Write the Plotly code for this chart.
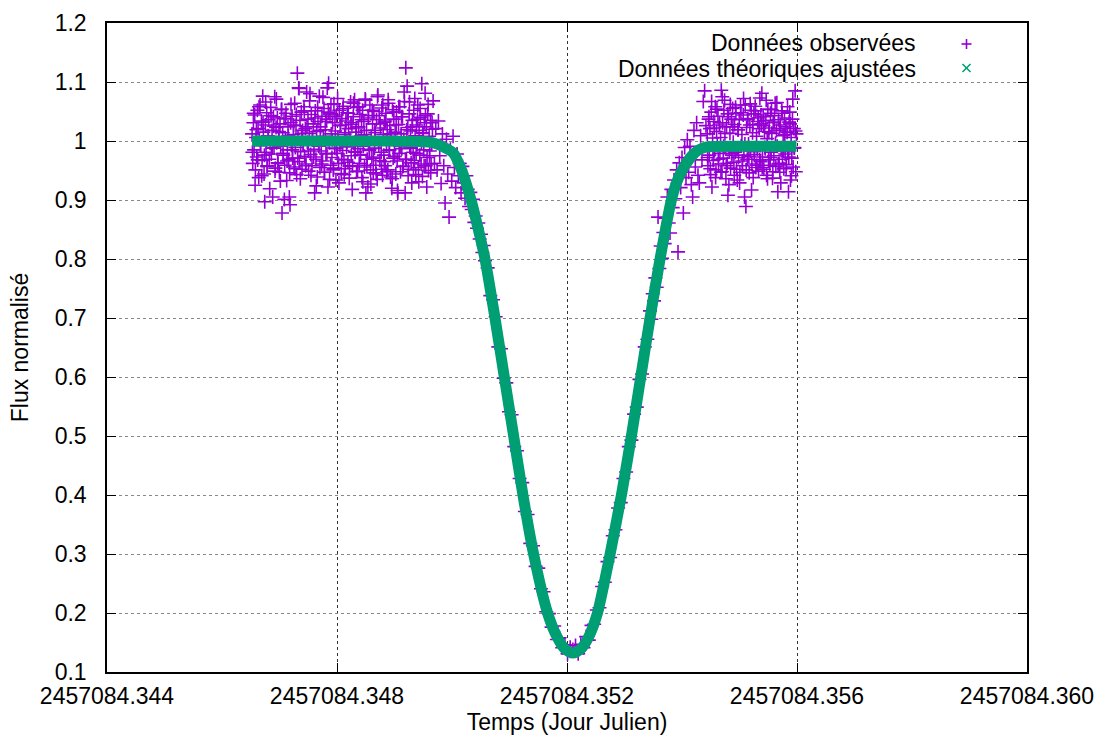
import plotly.graph_objects as go

# time stamps are seconds after this epoch (Julian Day)
T0_JD = 2457084.3465
SEC_PER_DAY = 86400.0

# --- observed flux: before ingress ---
obs_pre_s = [
    2, 3, 4, 5, 6, 7, 8, 9, 10, 11, 12, 13, 14, 15, 16, 17, 18, 19, 20, 21,
    22, 23, 24, 25, 26, 27, 28, 29, 30, 31, 32, 33, 34, 35, 36, 37, 38, 39, 40, 41,
    42, 43, 44, 45, 46, 47, 48, 49, 50, 51, 52, 53, 54, 55, 56, 57, 58, 59, 60, 61,
    62, 63, 64, 65, 66, 67, 68, 69, 70, 71, 72, 73, 74, 75, 76, 77, 78, 79, 80, 81,
    82, 83, 84, 85, 86, 87, 88, 89, 90, 91, 92, 93, 94, 95, 96, 97, 98, 99, 100, 101,
    102, 103, 104, 105, 106, 107, 108, 109, 110, 111, 112, 113, 114, 115, 116, 117, 118, 119, 120, 121,
    122, 123, 124, 125, 126, 127, 128, 129, 130, 131, 132, 133, 134, 135, 136, 137, 138, 139, 140, 141,
    142, 143, 144, 145, 146, 147, 148, 149, 150, 151, 152, 153, 154, 155, 156, 157, 158, 159, 160, 161,
    162, 163, 164, 165, 166, 167, 168, 169, 170, 171, 172, 173, 174, 175, 176, 177, 178, 179, 180, 181,
    182, 183, 184, 185, 186, 187, 188, 189, 190, 191, 192, 193, 194, 195, 196, 197, 198, 199, 200, 201,
    202, 203, 204, 205, 206, 207, 208, 209, 210, 211, 212, 213, 214, 215, 216, 217, 218, 219, 220, 221,
    222, 223, 224, 225, 226, 227, 228, 229, 230, 231, 232, 233, 234, 235, 236, 237, 238, 239, 240, 241,
    242, 243, 244, 245, 246, 247, 248, 249, 250, 251, 252, 253, 254, 255, 256, 257, 258, 259, 260, 261,
    262, 263, 264, 265, 266, 267, 268, 269, 270, 271, 272, 273,
]
obs_pre_flux = [
    1.012, 0.962, 1.031, 0.985, 1.044, 0.951, 1.006, 0.973, 1.052, 1.021, 0.938, 1.003, 1.061, 0.992, 1.034, 0.967, 1.076, 1.015, 0.944, 0.897,
    1.027, 0.981, 1.048, 0.958, 1.009, 1.036, 0.969, 0.996, 1.057, 0.978, 1.018, 0.905, 1.041, 0.988, 1.075, 0.954, 1.023, 0.997, 1.039, 0.962,
    1.005, 0.947, 1.029, 0.991, 1.053, 0.878, 1.014, 0.976, 1.038, 0.959, 1.002, 1.047, 0.933, 0.985, 1.024, 0.968, 0.905, 0.892, 1.031, 0.993,
    1.042, 0.971, 1.011, 0.956, 1.064, 0.989, 1.026, 0.943, 1.115, 1.007, 1.090, 0.965, 1.035, 0.982, 1.049, 0.952, 1.018, 0.994, 1.058, 0.974,
    1.021, 0.961, 1.083, 0.998, 1.037, 0.949, 1.013, 1.080, 0.977, 1.045, 0.958, 1.004, 1.029, 0.986, 0.912, 1.051, 0.969, 1.016, 0.939, 1.033,
    0.991, 1.076, 0.955, 1.024, 0.983, 1.042, 0.966, 1.008, 1.055, 0.947, 1.019, 0.978, 1.037, 1.090, 0.922, 1.098, 0.997, 1.046, 0.959, 1.012,
    0.972, 1.031, 0.951, 1.063, 0.988, 1.017, 0.934, 1.044, 0.979, 1.006, 0.962, 1.052, 0.993, 1.027, 0.945, 1.038, 0.984, 1.059, 0.968, 1.011,
    0.953, 1.034, 0.990, 1.048, 0.964, 1.021, 0.937, 1.003, 1.066, 0.975, 1.028, 0.958, 1.041, 0.996, 1.070, 0.981, 1.015, 0.948, 1.057, 0.987,
    1.024, 0.962, 1.045, 0.976, 1.009, 0.938, 1.052, 0.991, 1.033, 0.956, 1.071, 0.912, 1.018, 0.969, 0.922, 1.039, 0.984, 1.061, 0.951, 1.007,
    0.973, 1.029, 0.946, 1.050, 0.988, 1.014, 0.959, 1.036, 0.935, 1.078, 0.997, 1.043, 0.967, 1.022, 0.981, 1.056, 0.942, 1.011, 0.976, 1.032,
    0.958, 1.047, 0.993, 1.019, 0.951, 1.064, 0.984, 1.026, 0.939, 1.008, 0.920, 1.053, 0.971, 1.037, 0.996, 1.015, 0.944, 1.049, 0.966, 0.912,
    1.028, 0.979, 1.058, 0.948, 1.012, 0.987, 1.041, 0.957, 1.003, 1.067, 0.912, 1.124, 0.969, 1.093, 1.023, 0.952, 1.046, 0.990, 1.017, 0.963,
    0.929, 1.035, 0.981, 1.052, 0.967, 1.009, 0.943, 1.027, 0.994, 1.061, 0.955, 1.018, 0.976, 1.040, 0.961, 1.097, 0.940, 1.013, 0.985, 1.031,
    1.081, 0.958, 1.024, 0.972, 1.046, 0.950, 1.008, 0.983, 1.035, 0.961, 0.994, 1.020,
]
# second camera read-out, half a second later
obs_pre2_s = [
    2.5, 4.5, 6.5, 8.5, 10.5, 12.5, 14.5, 16.5, 18.5, 20.5, 22.5, 24.5, 26.5, 28.5, 30.5, 32.5, 34.5, 36.5, 38.5, 40.5,
    42.5, 44.5, 46.5, 48.5, 50.5, 52.5, 54.5, 56.5, 58.5, 60.5, 62.5, 64.5, 66.5, 68.5, 70.5, 72.5, 74.5, 76.5, 78.5, 80.5,
    82.5, 84.5, 86.5, 88.5, 90.5, 92.5, 94.5, 96.5, 98.5, 100.5, 102.5, 104.5, 106.5, 108.5, 110.5, 112.5, 114.5, 116.5, 118.5, 120.5,
    122.5, 124.5, 126.5, 128.5, 130.5, 132.5, 134.5, 136.5, 138.5, 140.5, 142.5, 144.5, 146.5, 148.5, 150.5, 152.5, 154.5, 156.5, 158.5, 160.5,
    162.5, 164.5, 166.5, 168.5, 170.5, 172.5, 174.5, 176.5, 178.5, 180.5, 182.5, 184.5, 186.5, 188.5, 190.5, 192.5, 194.5, 196.5, 198.5, 200.5,
    202.5, 204.5, 206.5, 208.5, 210.5, 212.5, 214.5, 216.5, 218.5, 220.5, 222.5, 224.5, 226.5, 228.5, 230.5, 232.5, 234.5, 236.5, 238.5, 240.5,
    242.5, 244.5, 246.5, 248.5, 250.5, 252.5, 254.5, 256.5, 258.5, 260.5, 262.5, 264.5, 266.5, 268.5, 270.5, 272.5,
]
obs_pre2_flux = [
    0.981, 1.047, 0.925, 1.019, 0.968, 1.058, 0.994, 0.941, 1.032, 0.976, 1.066, 0.957, 1.008, 0.919, 1.043, 0.988, 1.025, 0.949, 1.071, 0.963,
    1.016, 0.932, 1.054, 0.979, 0.901, 1.038, 0.966, 1.009, 0.946, 1.062, 0.985, 1.027, 0.953, 1.045, 0.971, 1.089, 0.936, 1.013, 0.996, 1.051,
    0.958, 1.024, 0.983, 1.068, 0.942, 1.006, 0.973, 1.039, 0.924, 1.057, 0.991, 1.018, 0.961, 1.074, 0.947, 1.033, 0.979, 1.049, 0.935, 1.062,
    1.002, 0.954, 1.041, 0.987, 1.072, 0.929, 1.026, 0.969, 1.055, 0.943, 1.014, 0.998, 1.047, 0.957, 1.031, 0.918, 1.064, 0.982, 1.022, 0.949,
    1.058, 0.977, 1.036, 0.931, 1.011, 1.069, 0.959, 1.043, 0.986, 0.927, 1.052, 0.971, 1.018, 0.944, 1.075, 0.993, 1.029, 0.952, 1.061, 0.965,
    1.034, 0.948, 1.070, 0.985, 1.012, 0.936, 1.049, 0.974, 1.027, 0.916, 1.058, 0.991, 1.041, 0.957, 1.083, 0.969, 1.019, 0.941, 1.066, 0.988,
    1.024, 0.951, 1.072, 0.979, 1.037, 0.931, 1.055, 0.996, 1.014, 0.958, 1.043, 0.922, 1.062, 0.975, 0.946, 1.031,
]

# --- observed flux: ingress ---
obs_ing_s = [
    274, 276, 278, 280, 282, 284, 286, 288, 290, 292, 294, 296, 298, 300, 302, 304, 306, 308, 310, 312,
    314, 316, 318, 320, 322, 324, 326, 328, 330, 332, 334, 336, 338, 340, 342, 344, 346, 348, 350, 352,
]
obs_ing_flux = [
    1.068, 0.962, 1.021, 0.951, 1.034, 0.975, 0.928, 1.012, 0.958, 0.895, 1.003, 0.944, 0.871, 0.986, 0.932, 1.008, 0.955, 0.921, 0.978, 0.941,
    0.962, 0.912, 0.957, 0.929, 0.903, 0.941, 0.918, 0.889, 0.913, 0.884, 0.901, 0.862, 0.873, 0.852, 0.861, 0.834, 0.842, 0.811, 0.823, 0.797,
]

# --- observed flux: bottom of the eclipse ---
obs_mid_s = [
    356, 360, 364, 368, 372, 376, 380, 384, 388, 392, 396, 400, 404, 408, 412, 416, 420, 424, 428, 432,
    436, 440, 444, 448, 452, 456, 460, 464, 468, 472, 476, 480, 484, 488, 492, 496, 500, 504, 508, 512,
    516, 520, 524, 528, 532, 536, 540, 544, 548, 552, 556, 560, 564, 568, 572, 576, 580, 584, 588, 592,
    596,
]
obs_mid_flux = [
    0.785, 0.738, 0.731, 0.702, 0.651, 0.648, 0.598, 0.590, 0.541, 0.536, 0.482, 0.475, 0.428, 0.421, 0.372, 0.367, 0.318, 0.314, 0.279, 0.276,
    0.241, 0.236, 0.202, 0.199, 0.176, 0.178, 0.155, 0.158, 0.141, 0.146, 0.131, 0.142, 0.138, 0.145, 0.131, 0.147, 0.141, 0.160, 0.154, 0.179,
    0.181, 0.205, 0.209, 0.245, 0.252, 0.287, 0.294, 0.331, 0.341, 0.378, 0.387, 0.428, 0.439, 0.482, 0.493, 0.537, 0.549, 0.596, 0.605, 0.651,
    0.664,
]

# --- observed flux: egress ---
obs_egr_s = [
    600, 602, 604, 606, 608, 610, 612, 614, 616, 618, 620, 622, 624, 626, 628, 630, 632, 634, 636, 638,
    640, 642, 644, 646, 648, 650, 652, 654, 656, 658, 660, 662, 664, 666, 668, 670, 672, 674, 676, 678,
    680, 682, 684,
]
obs_egr_flux = [
    0.712, 0.698, 0.741, 0.729, 0.768, 0.752, 0.871, 0.784, 0.822, 0.801, 0.845, 0.826, 0.869, 0.905, 0.861, 0.844, 0.918, 0.887, 0.934, 0.902,
    0.951, 0.812, 0.963, 0.921, 0.972, 0.878, 0.989, 0.938, 1.002, 0.947, 0.991, 0.926, 0.905, 1.018, 0.956, 1.031, 0.942, 0.929, 1.009, 0.968,
    1.067, 1.085, 1.026,
]

# --- observed flux: after egress ---
obs_post_s = [
    686, 687, 688, 689, 690, 691, 692, 693, 694, 695, 696, 697, 698, 699, 700, 701, 702, 703, 704, 705,
    706, 707, 708, 709, 710, 711, 712, 713, 714, 715, 716, 717, 718, 719, 720, 721, 722, 723, 724, 725,
    726, 727, 728, 729, 730, 731, 732, 733, 734, 735, 736, 737, 738, 739, 740, 741, 742, 743, 744, 745,
    746, 747, 748, 749, 750, 751, 752, 753, 754, 755, 756, 757, 758, 759, 760, 761, 762, 763, 764, 765,
    766, 767, 768, 769, 770, 771, 772, 773, 774, 775, 776, 777, 778, 779, 780, 781, 782, 783, 784, 785,
    786, 787, 788, 789, 790, 791, 792, 793, 794, 795, 796, 797, 798, 799, 800, 801, 802, 803, 804, 805,
    806, 807, 808, 809, 810, 811, 812, 813, 814, 815, 816, 817, 818, 819, 820,
]
obs_post_flux = [
    1.012, 0.958, 1.037, 0.976, 1.021, 0.943, 1.049, 0.922, 1.005, 0.967, 1.033, 0.984, 1.058, 0.951, 1.016, 0.993, 1.042, 0.961, 1.027, 0.979,
    1.006, 1.086, 0.948, 1.031, 0.971, 1.052, 1.069, 0.989, 0.936, 1.024, 0.962, 0.908, 1.041, 0.983, 1.013, 0.954, 1.037, 0.976, 1.055, 0.998,
    0.964, 1.028, 0.981, 1.047, 0.952, 0.934, 1.019, 0.972, 1.036, 0.947, 1.061, 0.992, 1.011, 0.958, 1.044, 0.976, 0.905, 1.061, 0.889, 1.023,
    0.969, 1.038, 0.995, 0.946, 1.027, 0.983, 1.052, 0.961, 1.014, 0.938, 1.046, 0.977, 1.059, 0.955, 1.008, 0.986, 1.033, 0.949, 1.021, 1.073,
    0.965, 1.029, 1.081, 0.973, 1.041, 0.952, 1.016, 0.987, 1.035, 0.942, 1.004, 1.054, 0.968, 1.022, 0.959, 1.047, 0.981, 1.013, 0.937, 1.031,
    0.975, 1.043, 1.064, 0.957, 1.018, 0.991, 0.914, 1.036, 0.962, 0.947, 1.027, 0.984, 1.051, 0.969, 1.009, 0.953, 1.039, 0.978, 1.024, 0.960,
    1.015, 0.982, 0.914, 1.032, 1.049, 0.934, 1.006, 0.971, 1.037, 0.956, 1.021, 0.989, 1.085, 0.948, 1.012,
]
obs_post2_s = [
    686.5, 688.5, 690.5, 692.5, 694.5, 696.5, 698.5, 700.5, 702.5, 704.5, 706.5, 708.5, 710.5, 712.5, 714.5, 716.5, 718.5, 720.5, 722.5, 724.5,
    726.5, 728.5, 730.5, 732.5, 734.5, 736.5, 738.5, 740.5, 742.5, 744.5, 746.5, 748.5, 750.5, 752.5, 754.5, 756.5, 758.5, 760.5, 762.5, 764.5,
    766.5, 768.5, 770.5, 772.5, 774.5, 776.5, 778.5, 780.5, 782.5, 784.5, 786.5, 788.5, 790.5, 792.5, 794.5, 796.5, 798.5, 800.5, 802.5, 804.5,
    806.5, 808.5, 810.5, 812.5, 814.5, 816.5, 818.5,
]
obs_post2_flux = [
    0.972, 1.041, 0.953, 1.067, 0.987, 1.022, 0.938, 1.054, 0.969, 1.031, 0.947, 1.075, 0.991, 1.013, 0.958, 1.046, 0.926, 1.062, 0.979, 1.024,
    0.942, 1.057, 0.985, 1.019, 0.929, 1.048, 0.966, 1.072, 0.995, 0.951, 1.036, 0.974, 1.063, 0.917, 1.028, 0.982, 1.051, 0.959, 1.039, 0.968,
    1.044, 0.955, 1.026, 0.989, 1.069, 0.936, 1.015, 0.972, 1.053, 0.948, 1.032, 0.996, 1.065, 0.961, 1.021, 0.929, 1.047, 0.983, 1.011, 0.954,
    1.058, 0.973, 1.029, 0.941, 1.071, 0.988, 1.017,
]

# --- fitted model ---
fit_s = [2, 100, 200, 255, 274, 289, 304, 317, 331, 342, 352, 367, 381, 395, 409, 425, 446, 460, 472, 484,
         496, 508, 521, 540, 557, 572, 586, 600, 615, 632, 640, 648, 663, 673, 685, 750, 820]
fit_flux = [1.000, 1.000, 1.000, 0.999, 0.997, 0.990, 0.980, 0.950, 0.900, 0.850, 0.800, 0.700, 0.600, 0.500,
            0.400, 0.300, 0.200, 0.160, 0.139, 0.132, 0.139, 0.160, 0.200, 0.300, 0.400, 0.500, 0.600, 0.700,
            0.800, 0.900, 0.930, 0.950, 0.975, 0.985, 0.990, 0.991, 0.991]

x_tick_vals = [2457084.344, 2457084.348, 2457084.352, 2457084.356, 2457084.360]
y_tick_vals = [0.1, 0.2, 0.3, 0.4, 0.5, 0.6, 0.7, 0.8, 0.9, 1.0, 1.1, 1.2]
y_tick_text = ["0.1", "0.2", "0.3", "0.4", "0.5", "0.6", "0.7", "0.8", "0.9", "1", "1.1", "1.2"]

PURPLE = "#9400d3"
GREEN = "#009e73"
FONT = "Liberation Sans, Arial, Helvetica, sans-serif"
FS = 23


def to_jd(secs):
    return [T0_JD + s / SEC_PER_DAY for s in secs]


obs_s = obs_pre_s + obs_pre2_s + obs_ing_s + obs_mid_s + obs_egr_s + obs_post_s + obs_post2_s
obs_flux = (obs_pre_flux + obs_pre2_flux + obs_ing_flux + obs_mid_flux + obs_egr_flux
            + obs_post_flux + obs_post2_flux)

fig = go.Figure()

fig.add_trace(go.Scatter(
    x=to_jd(obs_s), y=obs_flux, mode="markers",
    marker={"symbol": "cross-thin", "size": 10, "line": {"color": PURPLE, "width": 1.6}},
    showlegend=False, hoverinfo="skip",
))

fig.add_trace(go.Scatter(
    x=to_jd(fit_s), y=fit_flux, mode="lines",
    line={"color": GREEN, "width": 11, "shape": "spline", "smoothing": 0.6},
    showlegend=False, hoverinfo="skip",
))

W, H = 1098, 739
# plot box in pixels (used for the hand-made gnuplot-style key)
L, R, T, B = 107, 1027, 23, 672


def px(xp):
    return (xp - L) / (R - L)


def py(yp):
    return (B - yp) / (B - T)


shapes = []
# "+" key symbol
cx, cy, a = 966.5, 44, 5
shapes.append(dict(type="line", xref="paper", yref="paper", x0=px(cx - a), x1=px(cx + a), y0=py(cy), y1=py(cy),
                   line={"color": PURPLE, "width": 1.6}))
shapes.append(dict(type="line", xref="paper", yref="paper", x0=px(cx), x1=px(cx), y0=py(cy - a), y1=py(cy + a),
                   line={"color": PURPLE, "width": 1.6}))
# "x" key symbol
cy2, b = 68, 4
shapes.append(dict(type="line", xref="paper", yref="paper", x0=px(cx - b), x1=px(cx + b), y0=py(cy2 - b), y1=py(cy2 + b),
                   line={"color": GREEN, "width": 1.6}))
shapes.append(dict(type="line", xref="paper", yref="paper", x0=px(cx - b), x1=px(cx + b), y0=py(cy2 + b), y1=py(cy2 - b),
                   line={"color": GREEN, "width": 1.6}))

annotations = [
    dict(text="Données observées", xref="paper", yref="paper", x=px(918), y=py(cy - 0.5),
         xanchor="right", yanchor="middle", showarrow=False, font={"family": FONT, "size": FS, "color": "black"}),
    dict(text="Données théoriques ajustées", xref="paper", yref="paper", x=px(918), y=py(cy2 + 0.5),
         xanchor="right", yanchor="middle", showarrow=False, font={"family": FONT, "size": FS, "color": "black"}),
]

axis_common = dict(
    showline=True, linecolor="black", linewidth=1.5, mirror="allticks",
    ticks="inside", ticklen=9, tickwidth=1, tickcolor="black",
    showgrid=True, griddash="dot", gridwidth=1, zeroline=False, automargin=False,
    tickfont={"family": FONT, "size": FS, "color": "black"},
)

fig.update_layout(
    width=W, height=H, autosize=False,
    margin={"l": L, "r": W - R, "t": T, "b": H - B, "pad": 0},
    plot_bgcolor="white", paper_bgcolor="white",
    showlegend=False,
    font={"family": FONT, "size": FS, "color": "black"},
    shapes=shapes, annotations=annotations,
    xaxis=dict(
        axis_common, range=[2457084.344, 2457084.360], tickvals=x_tick_vals, tickformat=".3f",
        gridcolor="#333333", ticklabelstandoff=3, ticklabeloverflow="allow",
        title={"text": "Temps (Jour Julien)", "standoff": 3, "font": {"family": FONT, "size": FS}},
    ),
    yaxis=dict(
        axis_common, range=[0.1, 1.2], tickvals=y_tick_vals, ticktext=y_tick_text,
        gridcolor="#888888", ticklabelstandoff=14,
        title={"text": "Flux normalisé", "standoff": 20, "font": {"family": FONT, "size": FS}},
    ),
)

# the page body has a default 8px margin; drop it so the figure fills the window
fig.write_html(
    "out.html",
    config={"displayModeBar": False},
    post_script="document.body.style.margin='0';document.body.style.overflow='hidden';",
)
